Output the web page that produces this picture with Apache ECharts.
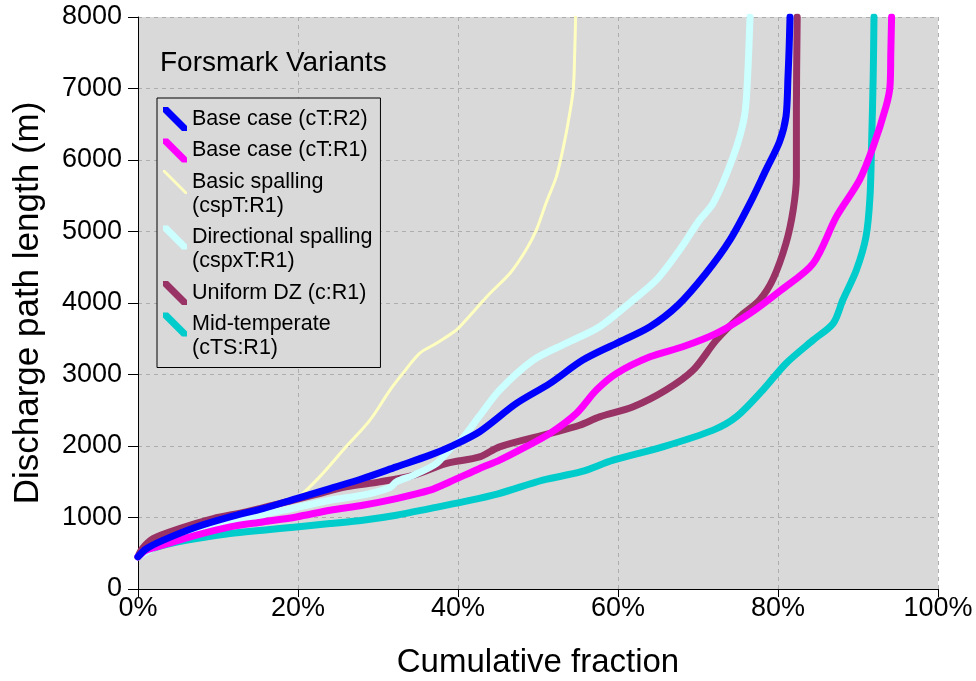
<!DOCTYPE html>
<html>
<head>
<meta charset="utf-8">
<script src="https://cdn.jsdelivr.net/npm/echarts@6/dist/echarts.min.js"></script>
<style>
html,body{margin:0;padding:0;background:#fff;}
#chart{width:976px;height:681px;}
</style>
</head>
<body>
<div id="chart"></div>
<script>
// ---- Data (cumulative fraction in %, discharge path length in m) ----
const seriesNames = [
  'Base case (cT:R2)',
  'Base case (cT:R1)',
  'Basic spalling\n(cspT:R1)',
  'Directional spalling\n(cspxT:R1)',
  'Uniform DZ (c:R1)',
  'Mid-temperate\n(cTS:R1)'
];

const fractionBaseR2 = [0, 1, 3.1, 7.3, 11.5, 15.6, 19.8, 24.0, 28.1, 32.3, 36.5, 39.0, 42.7, 47.3, 51.5, 55.6, 59.8, 64.0, 67.5, 71.0, 74.0, 76.5, 78.5, 80.2, 81.0, 81.25, 81.4, 81.5];
const lengthBaseR2   = [450, 560, 680, 867, 1008, 1125, 1265, 1405, 1545, 1708, 1872, 1988, 2200, 2596, 2876, 3202, 3436, 3668, 3970, 4416, 4882, 5396, 5862, 6260, 6608, 7168, 7600, 8000];

const fractionBaseR1 = [0, 1, 3.1, 7.3, 11.5, 15.6, 19.8, 24.0, 28.1, 32.3, 36.5, 39.0, 42.7, 45.2, 48.5, 51.5, 54.8, 57.3, 59.8, 64.0, 68.1, 72.3, 76.5, 80.4, 84.4, 87.3, 90.2, 91.9, 93.5, 94.0, 94.1, 94.2];
const lengthBaseR1   = [450, 540, 612, 752, 868, 938, 1008, 1102, 1172, 1265, 1382, 1500, 1686, 1802, 1990, 2176, 2456, 2782, 3015, 3248, 3388, 3575, 3855, 4182, 4555, 5208, 5722, 6188, 6748, 7030, 7500, 8000];

const fractionBasicSpall = [0, 3.1, 7.3, 11.5, 15.6, 18.5, 20.2, 22.7, 26.0, 29.0, 31.5, 33.1, 35.2, 37.3, 39.8, 41.0, 42.5, 44.0, 46.5, 48.5, 49.8, 51.0, 52.3, 53.1, 53.75, 54.4, 54.6, 54.7];
const lengthBasicSpall   = [450, 670, 860, 1000, 1120, 1215, 1300, 1568, 1988, 2362, 2782, 3015, 3296, 3436, 3622, 3762, 3950, 4136, 4416, 4742, 5022, 5396, 5768, 6142, 6515, 6982, 7542, 8000];

const fractionDirSpall = [0, 3.1, 7.3, 11.5, 15.6, 19.8, 24.0, 28.1, 31.5, 32.3, 34.4, 37.3, 39.0, 40.5, 42.7, 45.2, 49.4, 53.5, 57.7, 61.9, 64.8, 67.7, 70.2, 71.9, 74.4, 75.8, 76.2, 76.5];
const lengthDirSpall   = [450, 640, 800, 920, 1040, 1140, 1242, 1312, 1420, 1500, 1590, 1755, 1960, 2100, 2420, 2782, 3202, 3436, 3668, 4042, 4322, 4742, 5162, 5396, 6048, 6608, 7168, 8000];

const fractionUniformDZ = [0, 0.5, 1.9, 5.2, 9.4, 13.5, 17.7, 21.9, 26.0, 30.2, 34.4, 38.5, 42.7, 45.2, 51.5, 55.2, 57.7, 61.9, 66.0, 69.4, 72.3, 75.2, 77.7, 79.4, 81.0, 81.9, 82.3, 82.3, 82.4];
const lengthUniformDZ   = [450, 560, 705, 845, 985, 1078, 1195, 1312, 1428, 1498, 1590, 1755, 1848, 1988, 2176, 2290, 2408, 2548, 2782, 3062, 3482, 3808, 4042, 4340, 4835, 5302, 5768, 6702, 8000];

const fractionMidTemp = [0, 1, 3.1, 7.3, 11.5, 15.6, 19.8, 24.0, 28.1, 32.3, 36.5, 40.6, 45.0, 50.6, 55.4, 59.4, 65.6, 71.9, 74.8, 78.1, 81.0, 84.4, 86.9, 88.1, 89.8, 91.0, 91.5, 91.7, 91.9, 92.0];
const lengthMidTemp   = [450, 530, 612, 705, 775, 822, 868, 915, 962, 1032, 1125, 1218, 1330, 1522, 1640, 1802, 1988, 2222, 2408, 2782, 3155, 3482, 3715, 4042, 4462, 4928, 5488, 6235, 7168, 8000];

const yTicks = [0, 1000, 2000, 3000, 4000, 5000, 6000, 7000, 8000];
const xTicks = [0, 20, 40, 60, 80, 100];

// ---- Styles ----
const FONT = '"Liberation Sans", Arial, sans-serif';
const colors = ['#0000FF', '#FF00FF', '#FFFFC0', '#CCFFFF', '#993366', '#00CCCC'];
const widths = [7, 7, 3, 7, 7, 7];
const zOrder = [8, 7, 6, 5, 4, 3];

// legend icons: diagonal bar; two-line entries get an invisible point so the bar sits on the first line
function icon(t, twoLine) {
  const d = 'M0,0 L' + t + ',0 L24,' + (24 - t) + ' L24,24 L' + (24 - t) + ',24 L0,' + t + ' Z';
  return 'path://' + d + (twoLine ? ' M24,47.99 L24,48 L23.99,48 Z' : '');
}
const iconThick = [5, 5, 2, 5, 5, 5];

function zip(xs, ys) { return xs.map((x, i) => [x, ys[i]]); }
const allData = [
  zip(fractionBaseR2, lengthBaseR2),
  zip(fractionBaseR1, lengthBaseR1),
  zip(fractionBasicSpall, lengthBasicSpall),
  zip(fractionDirSpall, lengthDirSpall),
  zip(fractionUniformDZ, lengthUniformDZ),
  zip(fractionMidTemp, lengthMidTemp)
];

const chart = echarts.init(document.getElementById('chart'), null, {renderer: 'canvas'});

const option = {
  animation: false,
  backgroundColor: '#ffffff',
  title: {
    text: 'Forsmark Variants',
    left: 160, top: 49, padding: 0,
    textStyle: {fontFamily: FONT, fontSize: 28, fontWeight: 'normal', color: '#000'}
  },
  legend: {
    orient: 'vertical',
    left: 157, top: 98,
    padding: [9, 8, 7, 6],
    itemGap: 7.5,
    itemWidth: 24,
    itemHeight: 48,
    itemTextGap: 5,
    symbolKeepAspect: true,
    backgroundColor: '#D9D9D9',
    borderColor: '#000',
    borderWidth: 1,
    borderRadius: 0,
    itemStyle: {borderWidth: 0},
    textStyle: {fontFamily: FONT, fontSize: 21.5, color: '#000', lineHeight: 24},
    data: seriesNames.map((n, i) => ({name: n, icon: icon(iconThick[i], n.indexOf('\n') >= 0)}))
  },
  grid: {
    left: 138, right: 38, top: 17, bottom: 92,
    show: true, backgroundColor: '#D9D9D9', borderWidth: 0,
    containLabel: false, outerBoundsMode: 'none'
  },
  xAxis: {
    type: 'value', min: xTicks[0], max: xTicks[xTicks.length - 1], interval: 20,
    name: 'Cumulative fraction', nameLocation: 'middle', nameGap: 57,
    nameTextStyle: {fontFamily: FONT, fontSize: 33, color: '#000'},
    axisLine: {show: true, onZero: false, lineStyle: {color: '#000', width: 1}},
    axisTick: {show: true, length: 8, lineStyle: {color: '#000'}},
    axisLabel: {fontFamily: FONT, fontSize: 27, color: '#000', margin: 6, formatter: v => v + '%'},
    splitLine: {show: true, lineStyle: {color: '#ADADAD', type: [4, 4], width: 1}}
  },
  yAxis: {
    type: 'value', min: yTicks[0], max: yTicks[yTicks.length - 1], interval: 1000,
    name: 'Discharge path length (m)', nameLocation: 'middle', nameGap: 92,
    nameTextStyle: {fontFamily: FONT, fontSize: 35, color: '#000'},
    axisLine: {show: true, onZero: false, lineStyle: {color: '#000', width: 1}},
    axisTick: {show: true, length: 10, lineStyle: {color: '#000'}},
    axisLabel: {fontFamily: FONT, fontSize: 27, color: '#000', margin: 16, formatter: v => String(v)},
    splitLine: {show: true, lineStyle: {color: '#ADADAD', type: [4, 4], width: 1}}
  },
  series: seriesNames.map((n, i) => ({
    name: n,
    type: 'line',
    data: allData[i],
    z: zOrder[i],
    showSymbol: false,
    symbol: 'none',
    smooth: 0.3,
    color: colors[i],
    lineStyle: {color: colors[i], width: widths[i], cap: 'round', join: 'round'},
    emphasis: {disabled: true}
  }))
};

chart.setOption(option);
</script>
</body>
</html>
